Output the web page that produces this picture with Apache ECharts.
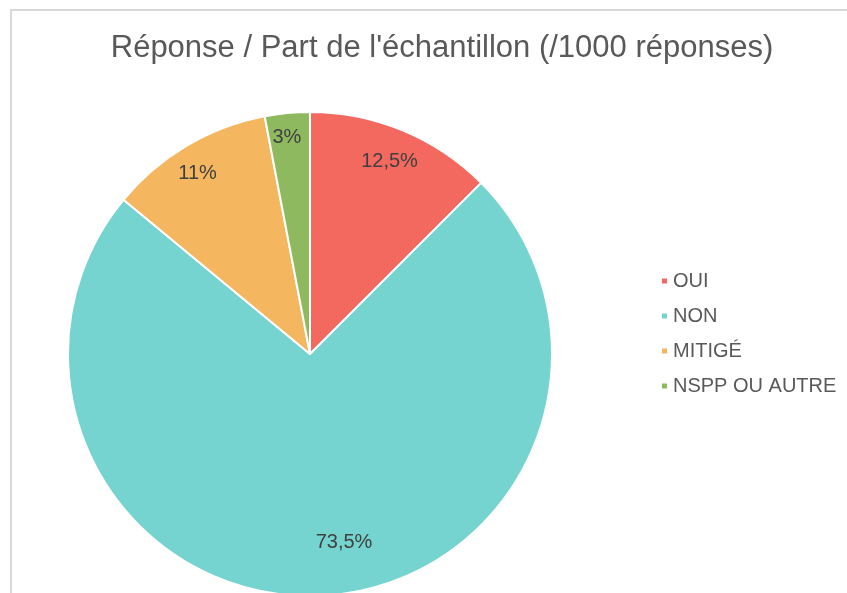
<!DOCTYPE html>
<html>
<head>
<meta charset="utf-8">
<script src="https://cdn.jsdelivr.net/npm/echarts@6/dist/echarts.min.js"></script>
<style>
  html, body { margin: 0; padding: 0; background: #fff; }
  #chart { width: 847px; height: 593px; }
</style>
</head>
<body>
<div id="chart"></div>
<script>
// categories and shares (%)
const categories = ['OUI', 'NON', 'MITIGÉ', 'NSPP OU AUTRE'];
const shares = [12.5, 73.5, 11, 3];
const labels = ['12,5%', '73,5%', '11%', '3%'];
const colors = ['#F3695F', '#75D4CF', '#F5B660', '#8FB95E'];

const FONT = 'Liberation Sans, Arial, sans-serif';

const chart = echarts.init(document.getElementById('chart'));

const pieData = categories.map((name, i) => ({
  name: name,
  value: shares[i],
  itemStyle: { color: colors[i] }
}));

// small nudges so the labels sit where Excel put them
function nudge(params) {
  const shifts = [[-2, 4], [24, -24], [-4, 3], [-3, -4]];
  const s = shifts[params.dataIndex];
  return { dx: s[0], dy: s[1] };
}

const options = {
  animation: false,
  title: {
    text: "Réponse / Part de l'échantillon (/1000 réponses)",
    left: 437,
    textAlign: 'center',
    top: 28,
    textStyle: {
      fontFamily: FONT,
      fontSize: 31,
      fontWeight: 'normal',
      color: '#595959'
    }
  },
  legend: {
    orient: 'vertical',
    left: 655,
    top: 266,
    itemWidth: 7,
    itemHeight: 7,
    itemGap: 15,
    icon: 'rect',
    data: categories,
    textStyle: {
      fontFamily: FONT,
      fontSize: 20,
      color: '#595959'
    }
  },
  graphic: [
    {
      type: 'rect',
      silent: true,
      shape: { x: 11, y: 10, width: 1000, height: 800 },
      style: { fill: 'none', stroke: '#d9d9d9', lineWidth: 2 }
    }
  ],
  series: [
    {
      name: 'Réponse',
      type: 'pie',
      center: [310, 354],
      radius: 242,
      startAngle: 90,
      clockwise: true,
      label: { show: false },
      labelLine: { show: false },
      itemStyle: { borderColor: '#fff', borderWidth: 2 },
      data: pieData
    },
    {
      // transparent ring only used to place the labels near the rim
      name: 'labels',
      type: 'pie',
      center: [310, 354],
      radius: [178, 242],
      startAngle: 90,
      clockwise: true,
      silent: true,
      itemStyle: { color: 'transparent' },
      label: {
        show: true,
        position: 'inside',
        formatter: p => labels[p.dataIndex],
        fontFamily: FONT,
        fontSize: 20,
        color: '#404040'
      },
      labelLine: { show: false },
      labelLayout: nudge,
      data: categories.map((name, i) => ({ name: name, value: shares[i] }))
    }
  ]
};

chart.setOption(options);
</script>
</body>
</html>
